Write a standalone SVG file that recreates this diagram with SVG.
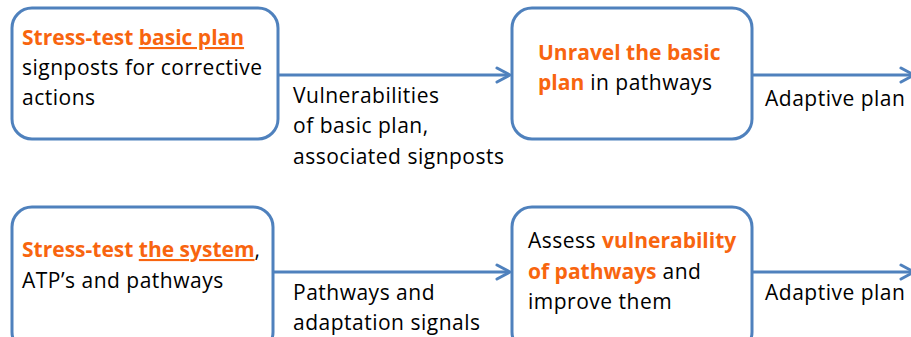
<svg xmlns="http://www.w3.org/2000/svg" width="911" height="337" viewBox="0 0 911 337">
  <defs>
    <style>
      .box { fill: #ffffff; stroke: #4F81BD; stroke-width: 3; }
      .conn { stroke: #4F81BD; stroke-width: 3; fill: none; }
      .head { stroke: #4F81BD; stroke-width: 3; fill: none; stroke-linecap: round; stroke-linejoin: round; }
      text { font-family: "Open Sans", "Liberation Sans", sans-serif; font-size: 21px; fill: #000000; letter-spacing: 0.5px; }
      .hl { fill: #F8650F; font-weight: bold; letter-spacing: 0px; }
      .ul { text-decoration: underline; }
    </style>
  </defs>
  <rect width="911" height="337" fill="#ffffff"/>

  <g id="connectors">
    <line class="conn" x1="278" y1="75" x2="509" y2="75"/>
    <polyline class="head" points="497,68 510,75 497,82"/>
    <line class="conn" x1="752" y1="75" x2="912" y2="75"/>
    <polyline class="head" points="901,68 914,75 901,82"/>
    <line class="conn" x1="273" y1="272" x2="509" y2="272"/>
    <polyline class="head" points="497,265 510,272 497,279"/>
    <line class="conn" x1="752" y1="272" x2="912" y2="272"/>
    <polyline class="head" points="901,265 914,272 901,279"/>
  </g>

  <g id="node-stress-basic">
    <rect class="box" x="12" y="8" width="266" height="131" rx="20"/>
    <text x="22" y="45"><tspan class="hl">Stress-test </tspan><tspan class="hl ul">basic plan</tspan></text>
    <text x="22" y="75">signposts for corrective</text>
    <text x="22" y="105">actions</text>
  </g>

  <g id="label-vulnerabilities">
    <text x="293" y="103">Vulnerabilities</text>
    <text x="293" y="133">of basic plan,</text>
    <text x="293" y="164">associated signposts</text>
  </g>

  <g id="node-unravel">
    <rect class="box" x="512" y="8" width="240" height="131" rx="20"/>
    <text x="538" y="60"><tspan class="hl">Unravel the basic</tspan></text>
    <text x="538" y="90"><tspan class="hl">plan</tspan> in pathways</text>
  </g>

  <g id="label-adaptive-1">
    <text x="765" y="106">Adaptive plan</text>
  </g>

  <g id="node-stress-system">
    <rect class="box" x="12" y="207" width="261" height="145" rx="20"/>
    <text x="22" y="257"><tspan class="hl">Stress-test </tspan><tspan class="hl ul">the system</tspan>,</text>
    <text x="22" y="288">ATP’s and pathways</text>
  </g>

  <g id="label-pathways">
    <text x="293" y="300">Pathways and</text>
    <text x="293" y="330">adaptation signals</text>
  </g>

  <g id="node-assess">
    <rect class="box" x="512" y="207" width="240" height="145" rx="20"/>
    <text x="528" y="248">Assess <tspan class="hl">vulnerability</tspan></text>
    <text x="528" y="279"><tspan class="hl">of pathways</tspan> and</text>
    <text x="528" y="309">improve them</text>
  </g>

  <g id="label-adaptive-2">
    <text x="765" y="300">Adaptive plan</text>
  </g>
</svg>
